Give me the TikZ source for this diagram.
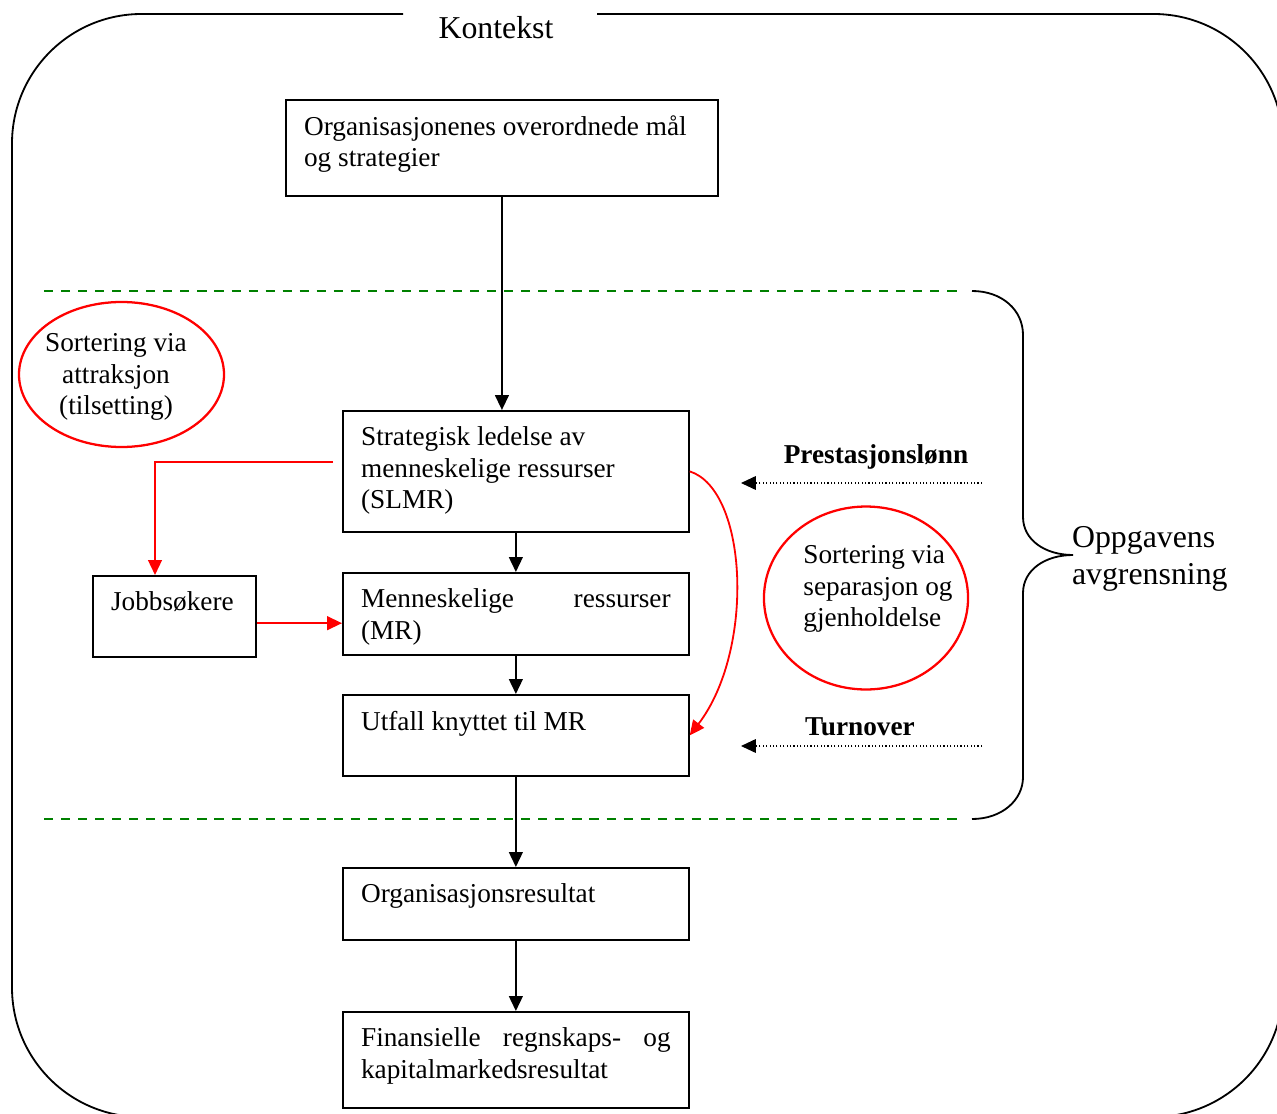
\documentclass[tikz,border=0pt]{standalone}
\usepackage{fontspec}
\setmainfont{Liberation Serif}
\usepackage{tikz}
\usepackage{xcolor}
\usetikzlibrary{shapes.geometric,arrows.meta}
\definecolor{frameline}{HTML}{000000}
\definecolor{sortred}{HTML}{FF0000}
\definecolor{limitgreen}{HTML}{008000}
\newcommand{\bx}[3]{% text in box: width, height, text
\begin{minipage}[t][#2][t]{#1}#3\end{minipage}}
\tikzstyle{flowbox} = [
    draw=frameline,
    line width=0.8pt,
    rectangle,
    anchor=north west,
    inner xsep=8pt,
    inner ysep=7pt,
    font=\fontsize{12}{13.8}\selectfont
    ]
\tikzstyle{sortellipse} = [
    draw=sortred,
    line width=1pt,
    ellipse,
    inner sep=0pt
    ]
\tikzstyle{sorttext} = [
    font=\fontsize{12}{13.8}\selectfont
    ]
\tikzstyle{flowarrow} = [
    line width=0.8pt,
    -{Triangle[length=6.5pt,width=6pt]}
    ]
\tikzstyle{redarrow} = [
    flowarrow,
    draw=sortred,
    color=sortred
    ]
\tikzstyle{dotarrow} = [
    line width=0.5pt,
    dash pattern=on 0.5pt off 1pt,
    -{Triangle[length=6.5pt,width=6pt]}
    ]
\tikzstyle{limitline} = [
    draw=limitgreen,
    line width=0.6pt,
    dash pattern=on 4pt off 3.5pt
    ]

\begin{document}
\begin{tikzpicture}[x=0.44pt,y=-0.44pt]
\clip (0,0) rectangle (1277,1113);

% context frame
\draw[line width=0.8pt, rounded corners=57pt] (403,14) -- (12,14) -- (12,1117)
    -- (1283,1117) -- (1283,14) -- (597,14);
\node[font=\fontsize{14}{16.5}\selectfont] (kontekst) at (496,28) {Kontekst};

\node[flowbox] (org) at (285,99) {\bx{174.1pt}{28.2pt}{\raggedright
    Organisasjonenes overordnede mål\\og strategier}};
\node[flowbox] (slmr) at (342,410) {\bx{136.2pt}{39.2pt}{\raggedright
    Strategisk ledelse av\\menneskelige ressurser\\(SLMR)}};
\node[flowbox] (mr) at (342,572) {\bx{136.2pt}{22.1pt}{%
    Menneskelige\hfill ressurser\\(MR)}};
\node[flowbox] (utfall) at (342,694) {\bx{136.2pt}{21.6pt}{%
    Utfall knyttet til MR}};
\node[flowbox] (orgres) at (342,867) {\bx{136.2pt}{17.7pt}{%
    Organisasjonsresultat}};
\node[flowbox] (fin) at (342,1011) {\bx{136.2pt}{28.2pt}{%
    Finansielle\hfill regnskaps-\hfill og\\kapitalmarkedsresultat}};
\node[flowbox] (job) at (92,575) {\bx{55.7pt}{21.6pt}{Jobbsøkere}};

\node[sortellipse, minimum width=90.2pt, minimum height=63.8pt] (attr) at (121.5,374.5) {};
\node[sorttext, align=center] (attrtext) at (116,377) {Sortering via\\attraksjon\\(tilsetting)};
\node[sortellipse, minimum width=89.8pt, minimum height=80.5pt] (sep) at (866,598) {};
\node[sorttext, align=left] (septext) at (878,589) {Sortering via\\separasjon og\\gjenholdelse};

% scope of the thesis
\draw[limitline] (44,291) -- (960,291);
\draw[limitline] (44,819) -- (960,819);
\draw[line width=0.8pt] (972,291) .. controls (1002,291) and (1023,310) .. (1023,335)
    -- (1023,517) .. controls (1023,540) and (1045,555) .. (1073,555)
    .. controls (1045,555) and (1023,570) .. (1023,593)
    -- (1023,777) .. controls (1023,800) and (1002,819) .. (972,819);
\node[font=\fontsize{14}{16.5}\selectfont, align=left, anchor=west]
    (avgr) at (1064,559) {Oppgavens\\avgrensning};

\draw[flowarrow] (org.south) -- (org.south |- slmr.north);
\draw[flowarrow] (slmr.south) -- (mr.north);
\draw[flowarrow] (mr.south) -- (utfall.north);
\draw[flowarrow] (utfall.south) -- (orgres.north);
\draw[flowarrow] (orgres.south) -- (fin.north);

\coordinate (redstart) at (333,462);
\draw[redarrow] (redstart) -| (job.north -| 155,0);
\draw[redarrow] ([yshift=-3pt]job.east) -- ([yshift=-3pt]job.east -| mr.west);
\draw[redarrow] (slmr.east) .. controls (748,490) and (755,650) .. (utfall.east);

\node[font=\fontsize{12}{13.8}\selectfont\bfseries] (prest) at (876,457) {Prestasjonslønn};
\node[font=\fontsize{12}{13.8}\selectfont\bfseries] (turn) at (860,727) {Turnover};
\coordinate (prestR) at (982,483);
\coordinate (prestL) at (741,483);
\coordinate (turnR) at (982,746);
\coordinate (turnL) at (741,746);
\draw[dotarrow] (prestR) -- (prestL);
\draw[dotarrow] (turnR) -- (turnL);
\end{tikzpicture}
\end{document}
